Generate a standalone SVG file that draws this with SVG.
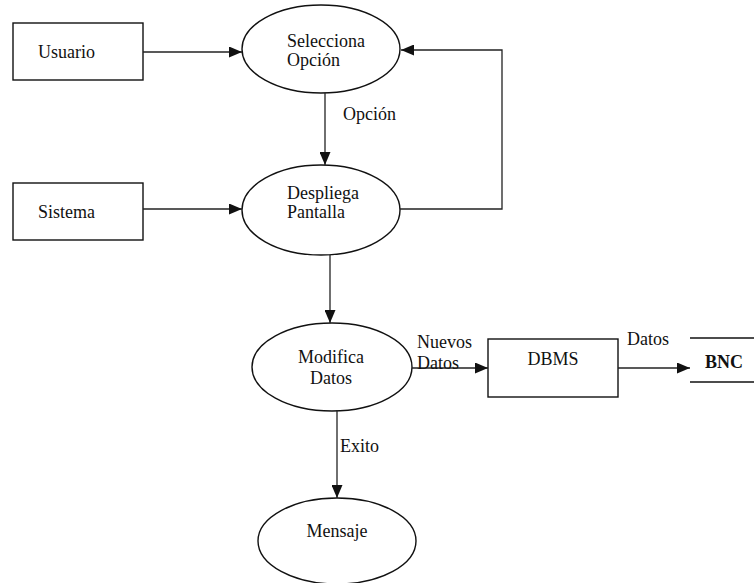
<svg xmlns="http://www.w3.org/2000/svg" width="754" height="583" viewBox="0 0 754 583">
  <style>
    .shape { fill: none; stroke: #111; stroke-width: 1.4; }
    .flow { fill: none; stroke: #222; stroke-width: 1.3; }
    text { font-family: "Liberation Serif", "Times New Roman", serif; font-size: 18px; fill: #111; }
    .c { text-anchor: middle; }
    .b { font-weight: bold; }
  </style>
  <defs>
    <marker id="arrow" viewBox="0 0 13 11" refX="13" refY="5.5" markerWidth="13" markerHeight="11" markerUnits="userSpaceOnUse" orient="auto">
      <path d="M0,0 L13,5.5 L0,11 Z" fill="#111"/>
    </marker>
  </defs>

  <rect width="754" height="583" fill="#fff"/>

  <!-- external entities and processes -->
  <g id="usuario">
    <rect class="shape" x="13" y="23" width="130" height="57"/>
    <text x="38" y="58">Usuario</text>
  </g>
  <g id="sistema">
    <rect class="shape" x="13" y="183" width="130" height="57"/>
    <text x="38" y="218">Sistema</text>
  </g>
  <g id="selecciona">
    <ellipse class="shape" cx="321" cy="49" rx="79" ry="44"/>
    <text x="287" y="47">Selecciona</text>
    <text x="287" y="66">Opción</text>
  </g>
  <g id="despliega">
    <ellipse class="shape" cx="321" cy="210" rx="79" ry="45"/>
    <text x="287" y="199">Despliega</text>
    <text x="287" y="218">Pantalla</text>
  </g>
  <g id="modifica">
    <ellipse class="shape" cx="332" cy="367" rx="80" ry="44"/>
    <text class="c" x="331" y="363">Modifica</text>
    <text class="c" x="331" y="384">Datos</text>
  </g>
  <g id="dbms">
    <rect class="shape" x="488" y="339" width="130" height="58"/>
    <text class="c" x="553" y="365">DBMS</text>
  </g>
  <g id="bnc">
    <line class="shape" x1="690" y1="338" x2="754" y2="338"/>
    <line class="shape" x1="690" y1="382" x2="754" y2="382"/>
    <text class="b" x="705" y="368">BNC</text>
  </g>
  <g id="mensaje">
    <ellipse class="shape" cx="337" cy="541" rx="79" ry="43"/>
    <text class="c" x="337" y="537">Mensaje</text>
  </g>

  <!-- data flows -->
  <g id="connectors">
    <line class="flow" x1="143" y1="52" x2="242" y2="52" marker-end="url(#arrow)"/>
    <line class="flow" x1="143" y1="209" x2="242" y2="209" marker-end="url(#arrow)"/>
    <line class="flow" x1="325" y1="93" x2="325" y2="165" marker-end="url(#arrow)"/>
    <polyline class="flow" points="400,209 502,209 502,50 401,50" marker-end="url(#arrow)"/>
    <line class="flow" x1="330" y1="255" x2="330" y2="323" marker-end="url(#arrow)"/>
    <line class="flow" x1="412" y1="368" x2="488" y2="368" marker-end="url(#arrow)"/>
    <line class="flow" x1="618" y1="368" x2="690" y2="368" marker-end="url(#arrow)"/>
    <line class="flow" x1="337" y1="410" x2="337" y2="498" marker-end="url(#arrow)"/>
  </g>

  <!-- flow labels -->
  <g id="labels">
    <text x="343" y="120">Opción</text>
    <text x="417" y="348">Nuevos</text>
    <text x="417" y="369">Datos</text>
    <text x="627" y="345">Datos</text>
    <text x="340" y="452">Exito</text>
  </g>
</svg>
